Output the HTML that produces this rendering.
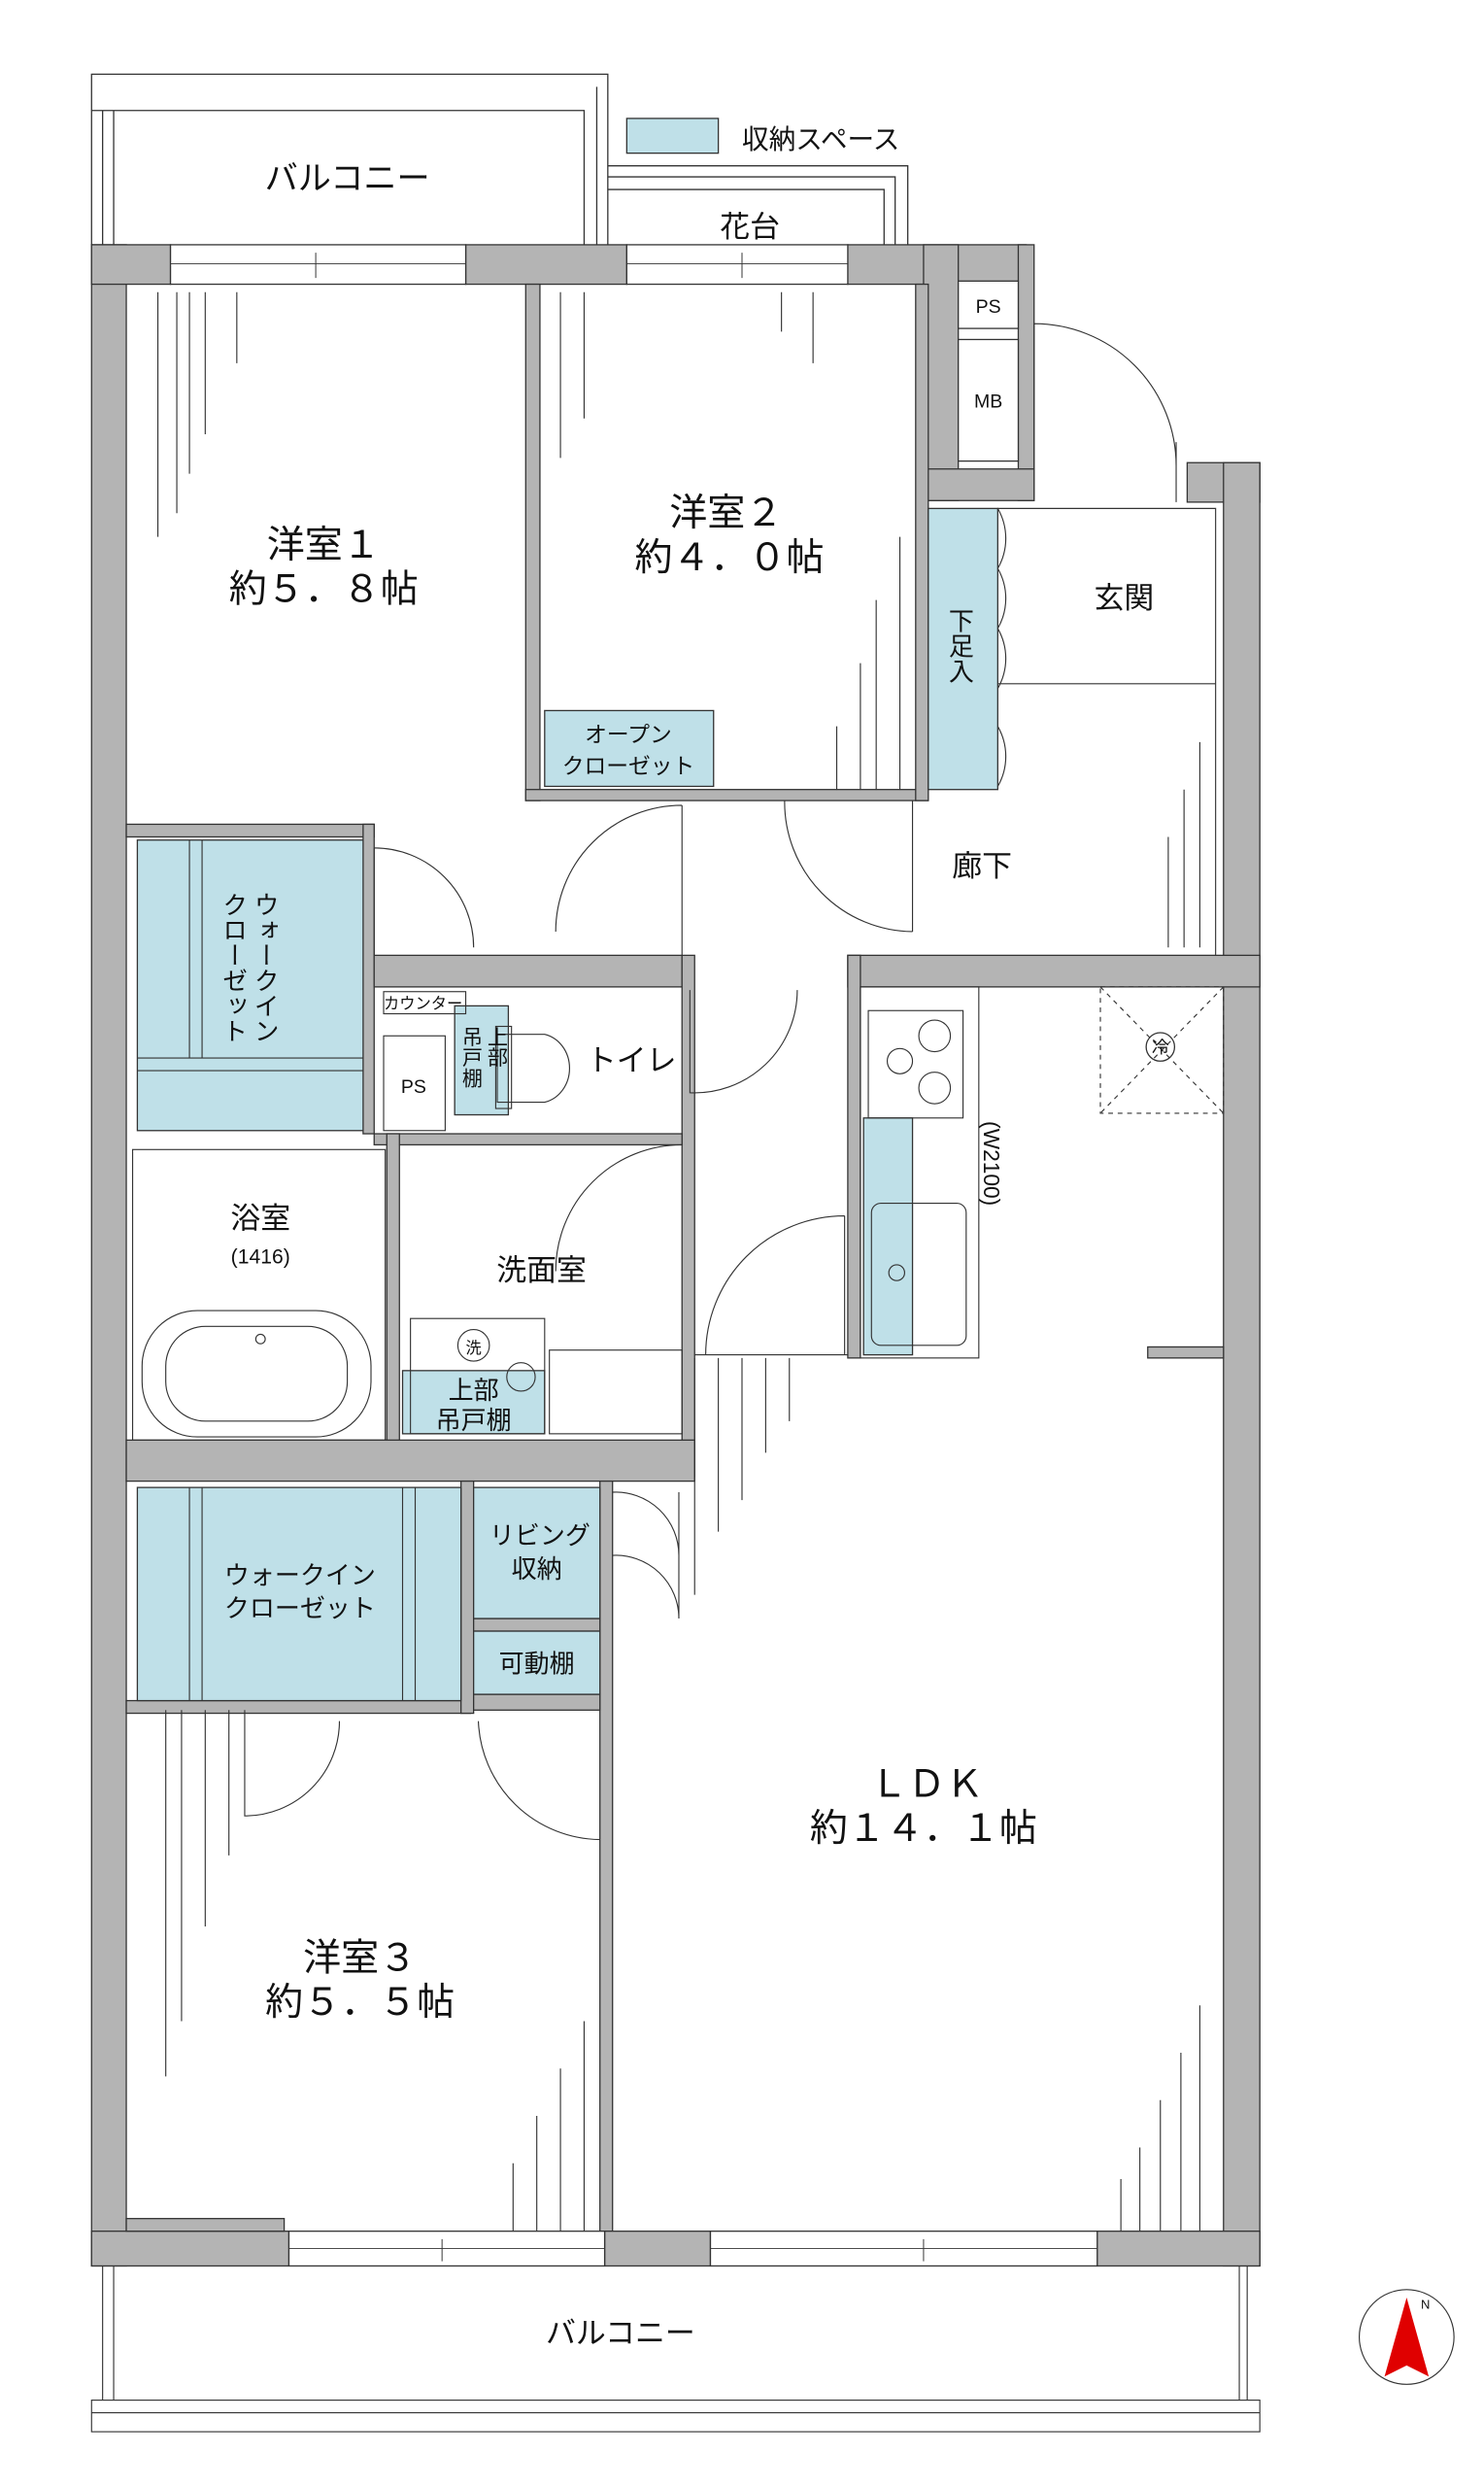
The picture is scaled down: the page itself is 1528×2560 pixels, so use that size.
<!DOCTYPE html>
<html><head><meta charset="utf-8"><style>
html,body{margin:0;padding:0;background:#fff}
svg{display:block}
text{font-family:"Liberation Sans","Noto Sans CJK JP",sans-serif;fill:#111}
</style></head><body>
<svg width="1528" height="2560" viewBox="0 0 940 1575" preserveAspectRatio="none" xmlns="http://www.w3.org/2000/svg">
<g fill="none" stroke="#333" stroke-width="0.8">
<!-- top balcony -->
<path d="M58,155 V47 H385 V155"/><path d="M58,70 H370 V155"/><path d="M65,70 V155 M72,70 V155 M378,55 V155"/>
<!-- flower bed -->
<path d="M385,105 H575 V155 M385,112 H567 V155 M385,120 H560 V155"/>
</g>
<rect x="397" y="75" width="58" height="22" fill="#bfe0e8" stroke="#333" stroke-width="0.8"/>
<text x="470" y="94" font-size="17">収納スペース</text>
<text x="220" y="120" font-size="21" text-anchor="middle">バルコニー</text>
<text x="475" y="150" font-size="19" text-anchor="middle">花台</text>

<!-- walls -->
<g fill="#b4b4b4" stroke="#333" stroke-width="0.8">
<rect x="58" y="155" width="22" height="1280"/>
<rect x="58" y="155" width="50" height="25"/>
<rect x="295" y="155" width="102" height="25"/>
<rect x="537" y="155" width="113" height="25"/>
<rect x="585" y="155" width="22" height="162"/>
<rect x="645" y="155" width="10" height="162"/>
<rect x="585" y="297" width="70" height="20"/>
<rect x="752" y="293" width="46" height="25"/>
<rect x="775" y="293" width="23" height="1142"/>
<rect x="333" y="180" width="9" height="327"/>
<rect x="333" y="500" width="255" height="7"/>
<rect x="580" y="180" width="8" height="327"/>
<rect x="80" y="522" width="157" height="8"/>
<rect x="230" y="522" width="7" height="196"/>
<rect x="237" y="605" width="195" height="20"/>
<rect x="537" y="605" width="261" height="20"/>
<rect x="432" y="605" width="8" height="330"/>
<rect x="237" y="718" width="195" height="7"/>
<rect x="245" y="718" width="8" height="197"/>
<rect x="537" y="605" width="8" height="255"/>
<rect x="80" y="912" width="360" height="26"/>
<rect x="80" y="1077" width="218" height="8"/>
<rect x="292" y="938" width="8" height="147"/>
<rect x="380" y="938" width="8" height="475"/>
<rect x="300" y="1025" width="80" height="8"/>
<rect x="300" y="1073" width="80" height="10"/>
<rect x="727" y="853" width="48" height="7"/>
<rect x="58" y="1413" width="125" height="22"/>
<rect x="80" y="1405" width="100" height="8"/>
<rect x="383" y="1413" width="67" height="22"/>
<rect x="695" y="1413" width="103" height="22"/>
</g>
<!-- windows -->
<g fill="#fff" stroke="#333" stroke-width="0.8">
<rect x="108" y="155" width="187" height="25"/><rect x="397" y="155" width="140" height="25"/>
<rect x="183" y="1413" width="200" height="22"/><rect x="450" y="1413" width="245" height="22"/>
</g>
<g stroke="#333" stroke-width="0.6">
<path d="M108,167 H295 M200,160 V176 M397,167 H537 M470,160 V176 M183,1424 H383 M280,1418 V1432 M450,1424 H695 M585,1418 V1432"/>
</g>
<!-- PS MB -->
<g fill="#fff" stroke="#333" stroke-width="0.8">
<rect x="607" y="178" width="38" height="30"/><rect x="607" y="215" width="38" height="77"/>
</g>
<text x="626" y="198" font-size="12" text-anchor="middle">PS</text>
<text x="626" y="258" font-size="12" text-anchor="middle">MB</text>
<!-- storages -->
<g fill="#bfe0e8" stroke="#333" stroke-width="0.8">
<rect x="588" y="322" width="44" height="178"/>
<rect x="345" y="450" width="107" height="48"/>
<rect x="87" y="532" width="143" height="184"/>
<rect x="288" y="637" width="34" height="69"/>
<rect x="255" y="868" width="90" height="40"/>
<rect x="547" y="708" width="31" height="150"/>
<rect x="87" y="942" width="205" height="135"/>
<rect x="300" y="942" width="80" height="83"/>
<rect x="300" y="1033" width="80" height="40"/>
</g>
<g stroke="#333" stroke-width="0.7" fill="none">
<path d="M120,532 V670 M128,532 V670 M87,670 H230 M87,678 H230"/>
<path d="M120,942 V1077 M128,942 V1077 M255,942 V1077 M263,942 V1077"/>
<!-- doors -->
<path d="M655,205 V297 M655,205 A90,90 0 0 1 745,295 M745,280 V318"/>
<path d="M632,322 H770 V605 M632,433 H770"/>
<path d="M632,322 A38,38 0 0 1 632,360 M632,360 A38,38 0 0 1 632,398 M632,398 A38,38 0 0 1 632,436 M632,460 A38,38 0 0 1 632,498"/>
<path d="M578,507 V590 M578,590 A82,82 0 0 1 497,507"/>
<path d="M432,510 V605 M432,510 A80,80 0 0 0 352,590"/>
<path d="M237,537 A63,63 0 0 1 300,600 M237,537 V605"/>
<path d="M437,627 V692 A65,65 0 0 0 505,627"/>
<path d="M432,725 A80,80 0 0 0 352,805"/>
<path d="M535,770 V858 M535,770 A88,88 0 0 0 447,858 M440,858 H537"/>
<path d="M388,945 A40,40 0 0 1 430,985 M388,985 A40,40 0 0 1 430,1025 M430,945 V1025"/>
<path d="M155,1083 V1150 A60,60 0 0 0 215,1090"/>
<path d="M380,1165 A78,78 0 0 1 303,1090"/>
<!-- kitchen -->
<rect x="545" y="625" width="75" height="235"/>
<rect x="550" y="640" width="60" height="68"/>
<circle cx="592" cy="656" r="10"/><circle cx="592" cy="689" r="10"/><circle cx="570" cy="672" r="8"/>
<rect x="552" y="762" width="60" height="90" rx="6"/><circle cx="568" cy="806" r="5"/>
<!-- AC -->
<rect x="697" y="625" width="78" height="80" stroke-dasharray="3,3"/>
<path d="M697,625 L775,705 M775,625 L697,705" stroke-dasharray="3,3"/>
<!-- bath -->
<rect x="84" y="728" width="160" height="184"/>
<rect x="90" y="830" width="145" height="80" rx="35"/>
<rect x="105" y="840" width="115" height="60" rx="25"/>
<circle cx="165" cy="848" r="3"/>
<!-- washroom -->
<rect x="260" y="835" width="85" height="73"/>
<circle cx="330" cy="872" r="9"/>
<rect x="348" y="855" width="84" height="53"/>
<!-- toilet -->
<rect x="243" y="628" width="52" height="14"/><rect x="243" y="656" width="39" height="60"/>
<path d="M315,655 H345 A20,22 0 0 1 345,698 H315 Z"/>
<rect x="314" y="650" width="10" height="52"/>
<circle cx="300" cy="852" r="10"/>
<circle cx="891" cy="1480" r="30"/>
<!-- floor lines -->
<path d="M130,185 V275 M120,185 V300 M112,185 V325 M150,185 V230 M100,185 V340 M370,185 V265 M355,185 V290 M495,185 V210 M515,185 V230 M555,380 V500 M545,420 V500 M530,460 V500 M570,340 V500 M750,500 V600 M740,530 V600 M760,470 V600 M455,860 V970 M470,860 V950 M485,860 V920 M500,860 V900 M440,860 V1010 M115,1083 V1280 M105,1083 V1315 M130,1083 V1220 M145,1083 V1175 M370,1280 V1413 M355,1310 V1413 M340,1340 V1413 M325,1370 V1413 M760,1270 V1413 M748,1300 V1413 M735,1330 V1413 M722,1360 V1413 M710,1380 V1413"/>
<!-- bottom balcony -->
<path d="M65,1435 V1520 M72,1435 V1520 M785,1435 V1520 M790,1435 V1520"/>
<rect x="58" y="1520" width="740" height="20"/><path d="M58,1528 H798"/>
</g>
<path d="M891,1455 L877,1505 L891,1498 L905,1505 Z" fill="#e00000"/>
<text x="900" y="1462" font-size="8">N</text>
<g font-size="24" text-anchor="middle">
<text x="205" y="353">洋室１</text><text x="205" y="381">約５．８帖</text>
<text x="460" y="333">洋室２</text><text x="462" y="361">約４．０帖</text>
<text x="228" y="1248">洋室３</text><text x="228" y="1276">約５．５帖</text>
<text x="587" y="1138">ＬＤＫ</text><text x="585" y="1166">約１４．１帖</text>
</g>
<g font-size="19" text-anchor="middle">
<text x="712" y="385">玄関</text><text x="622" y="555">廊下</text>
<text x="165" y="778">浴室</text><text x="343" y="811">洗面室</text>
<text x="393" y="1484">バルコニー</text><text x="400" y="678">トイレ</text>
</g>
<text x="165" y="800" font-size="13" text-anchor="middle">(1416)</text>
<text x="608" y="385" font-size="16" style="writing-mode:vertical-rl" text-anchor="start">下足入</text>
<text x="398" y="470" font-size="14" text-anchor="middle">オープン</text><text x="398" y="490" font-size="14" text-anchor="middle">クローゼット</text>
<text x="168" y="565" font-size="16" style="writing-mode:vertical-rl">ウォークイン</text>
<text x="148" y="565" font-size="16" style="writing-mode:vertical-rl">クローゼット</text>
<text x="243" y="639" font-size="10">カウンター</text>
<text x="262" y="692" font-size="12" text-anchor="middle">PS</text>
<text x="298" y="650" font-size="13" style="writing-mode:vertical-rl">吊戸棚</text>
<text x="314" y="650" font-size="13" style="writing-mode:vertical-rl">上部</text>
<text x="300" y="886" font-size="16" text-anchor="middle">上部</text><text x="300" y="905" font-size="16" text-anchor="middle">吊戸棚</text>
<text x="300" y="857" font-size="10" text-anchor="middle">洗</text>
<text x="735" y="667" font-size="11" text-anchor="middle">冷</text><circle cx="735" cy="663" r="9" fill="none" stroke="#333" stroke-width="0.8"/>
<text x="628" y="710" font-size="14" style="writing-mode:vertical-rl">(W2100)</text>
<text x="190" y="1003" font-size="16" text-anchor="middle">ウォークイン</text><text x="190" y="1024" font-size="16" text-anchor="middle">クローゼット</text>
<text x="342" y="978" font-size="16" text-anchor="middle">リビング</text><text x="340" y="999" font-size="16" text-anchor="middle">収納</text>
<text x="340" y="1059" font-size="16" text-anchor="middle">可動棚</text>
</svg>
</body></html>
